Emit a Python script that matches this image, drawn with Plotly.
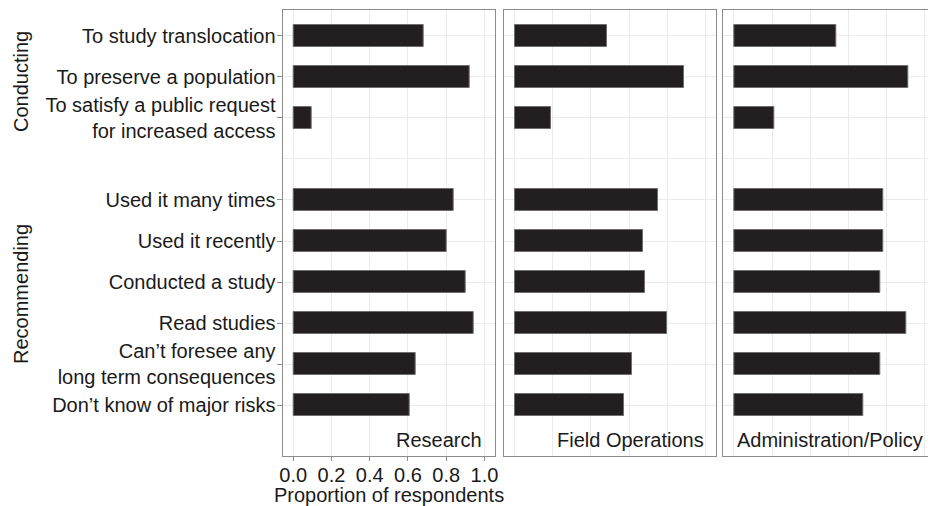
import plotly.graph_objects as go

# ---- data ----
categories = [
    "To study translocation",
    "To preserve a population",
    "To satisfy a public request<br>for increased access",
    "Used it many times",
    "Used it recently",
    "Conducted a study",
    "Read studies",
    "Can’t foresee any<br>long term consequences",
    "Don’t know of major risks",
]
positions = [0, 1, 2, 4, 5, 6, 7, 8, 9]
groups = ["Conducting", "Recommending"]
panels = ["Research", "Field Operations", "Administration/Policy"]
research = [0.681, 0.921, 0.096, 0.841, 0.801, 0.900, 0.942, 0.639, 0.609]
field_operations = [0.484, 0.889, 0.189, 0.751, 0.673, 0.683, 0.800, 0.613, 0.575]
administration_policy = [0.537, 0.913, 0.211, 0.784, 0.784, 0.765, 0.903, 0.765, 0.676]
x_ticks = [0.0, 0.2, 0.4, 0.6, 0.8, 1.0]
x_title = "Proportion of respondents"

W, H = 928, 506
FONT = "Liberation Sans, Arial, Helvetica, sans-serif"
FS = 20
TXT = "#1a1a1a"
GRID = "#ebebeb"
BORDER = "#8c8c8c"

fig = go.Figure()
series = [research, field_operations, administration_policy]
for i, vals in enumerate(series):
    sfx = "" if i == 0 else str(i + 1)
    fig.add_trace(go.Bar(
        x=vals, y=positions, orientation="h", width=0.56,
        marker=dict(color="#231f20", line=dict(color="#6e6e6e", width=1)),
        xaxis="x" + sfx, yaxis="y" + sfx, showlegend=False,
    ))

dom_x = [(282.7 / W, 495 / W), (504 / W, 716 / W), (723.3 / W, 1.0)]
x_ranges = [[-0.055, 1.055], [-0.055, 1.055], [-0.055, 1.0167]]
y_dom = [1 - 456 / H, 1 - 10 / H]
y_range = [10.244, -0.634]

layout = dict(
    width=W, height=H, margin=dict(l=0, r=0, t=0, b=0),
    paper_bgcolor="white", plot_bgcolor="white",
    font=dict(family=FONT, size=FS, color=TXT),
    bargap=0,
)
for i in range(3):
    sfx = "" if i == 0 else str(i + 1)
    xa = dict(
        domain=list(dom_x[i]), range=x_ranges[i], anchor="y" + sfx,
        tickvals=x_ticks, showgrid=True, gridcolor=GRID, gridwidth=1,
        zeroline=False, showline=True, linecolor=BORDER, linewidth=1.3,
        mirror=True, automargin=False, fixedrange=True,
    )
    if i == 0:
        xa.update(ticks="outside", ticklen=4, tickcolor=BORDER, tickwidth=1,
                  tickformat=".1f", tickfont=dict(size=FS, color=TXT),
                  ticklabelstandoff=-3)
    else:
        xa.update(showticklabels=False, ticks="")
    ya = dict(
        domain=y_dom, range=y_range, anchor="x" + sfx,
        tickvals=positions, ticktext=categories,
        showgrid=True, gridcolor=GRID, gridwidth=1, zeroline=False,
        showline=True, linecolor=BORDER, linewidth=1.3,
        mirror=(i < 2), automargin=False, fixedrange=True,
        minor=dict(tickvals=[3], showgrid=True, gridcolor=GRID, gridwidth=1, ticks=""),
    )
    if i == 0:
        ya.update(ticks="outside", ticklen=5, tickcolor=BORDER, tickwidth=1,
                  tickfont=dict(size=FS, color=TXT), ticklabelstandoff=-3)
    else:
        ya.update(showticklabels=False, ticks="", matches="y")
    layout["xaxis" + sfx] = xa
    layout["yaxis" + sfx] = ya

annotations = []
for i, name in enumerate(panels):
    sfx = "" if i == 0 else str(i + 1)
    annotations.append(dict(
        text=name, x=1.0, y=9.85, xref="x" + sfx, yref="y" + sfx,
        xanchor="right", yanchor="middle", showarrow=False,
        font=dict(size=FS, color=TXT),
    ))
group_y = [1 - 82 / H, 1 - 294 / H]
for g, gy in zip(groups, group_y):
    annotations.append(dict(
        text=g, x=21 / W, y=gy, xref="paper", yref="paper",
        xanchor="center", yanchor="middle", textangle=-90, showarrow=False,
        font=dict(size=FS, color=TXT),
    ))
annotations.append(dict(
    text=x_title, x=0.5, y=1 - 495 / H, xref="x domain", yref="paper",
    xanchor="center", yanchor="middle", showarrow=False,
    font=dict(size=FS, color=TXT),
))
layout["annotations"] = annotations

fig.update_layout(**layout)
fig.write_html("out.html", config={"displayModeBar": False},
               post_script="document.body.style.margin='0';document.body.style.overflow='hidden';")
